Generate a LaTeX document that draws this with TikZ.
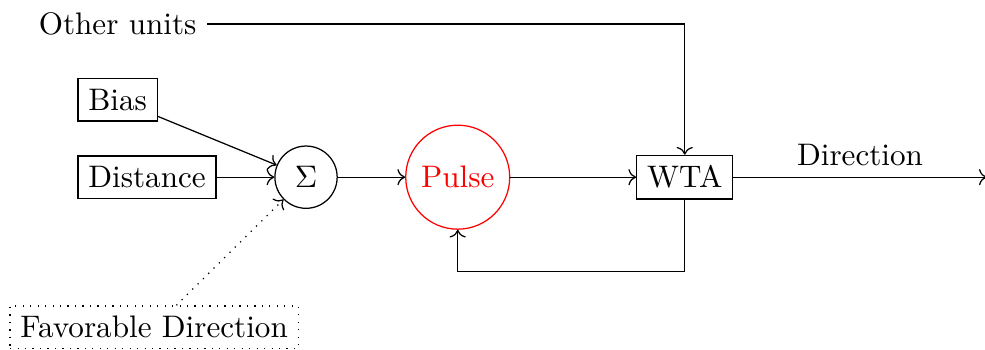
\documentclass[tikz,border=0pt]{standalone}
\usepackage{tikz}
\usetikzlibrary{arrows.meta,positioning}
\tikzset{
  bd/block/.style={draw, rectangle, align=center},
  bd/sum/.style={draw, circle, minimum size=20pt, inner sep=1pt},
  bd/pulse/.style={draw=red, text=red, circle, minimum size=33.4pt, inner sep=1pt},
  bd/hint/.style={draw, dotted, align=center},
  bd/arr/.style={-{To}},
  bd/hintarr/.style={-{To}, dotted}
}

\begin{document}
\begin{tikzpicture}
  \useasboundingbox (-1.66,-1.94) rectangle (9.46,2.0);

  \node[bd/block] (dist) at (0,0) {Distance};
  \node[bd/block, above=3.8mm of dist.north west, anchor=south west] (bias) {Bias};
  \node[above=3.6mm of bias] (other) {Other units};
  \node[bd/sum, right=6.5mm of dist] (sum) {$\Sigma$};
  \node[bd/pulse, right=7.6mm of sum] (pulse) {Pulse};
  \node[bd/block, right=14.2mm of pulse] (wta) {WTA};
  \node[bd/hint, below=12mm of dist, xshift=0.8mm] (fav) {Favorable Direction};
  \coordinate[right=28.6mm of wta] (dirend);

  \draw[bd/arr] (bias) -- (sum);
  \draw[bd/arr] (dist) -- (sum);
  \draw[bd/hintarr] (fav) -- (sum);
  \draw[bd/arr] (sum) -- (pulse);
  \draw[bd/arr] (pulse) -- (wta);
  \draw[bd/arr] (wta) -- (dirend)
    node[midway, above] {Direction};
  \draw[bd/arr] (other) -| (wta);
  \draw[bd/arr] (wta.south) -- ++(0,-8.1mm) -| (pulse.south);
\end{tikzpicture}
\end{document}
